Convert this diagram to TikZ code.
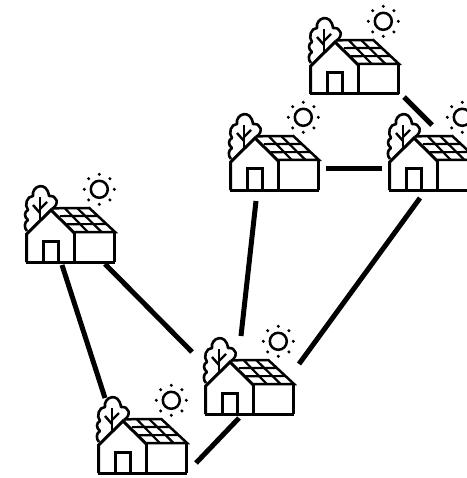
\documentclass[tikz,border=0pt]{standalone}
\usepackage{tikz}
\usetikzlibrary{calc, positioning}
\tikzset{
	x=1pt,
	y=-1pt,
	home/.style={
		rectangle,
		anchor=south west,
		minimum width=90pt,
		minimum height=90pt,
		inner sep=0pt,
		outer sep=0pt
	},
	link/.style={
		line width=5pt
	},
	outline/.style={
		line width=3pt,
		line join=miter
	},
	panel/.style={
		line width=2.2pt
	},
	homeicon/.pic={
		% foliage
		\draw[outline, line width=2.6pt, line join=round] (1,-31) .. controls (-2,-34) and (-2,-40) .. (2,-42)
			.. controls (-2,-45) and (-2,-50) .. (2,-52)
			.. controls (-2,-57) and (1,-66) .. (7,-66)
			.. controls (5,-76) and (21,-82) .. (23,-66)
			.. controls (31,-67) and (34,-58) .. (26,-53);
		\draw[outline, line width=2.4pt] (14,-65) -- (14,-41);
		\draw[outline, line width=2.4pt] (7,-57) -- (14,-49);
		\draw[outline, line width=2.4pt] (21,-60) -- (14,-53);
		% house
		\draw[outline] (.7,0) -- (.7,-28) -- (25,-52) -- (48.3,-29);
		\draw[outline] (-.5,0) -- (89,0);
		\draw[outline] (48.3,0) -- (48.3,-30);
		\draw[outline] (88,0) -- (88,-30);
		\draw[outline] (17.3,0) -- (17.3,-21) -- (32.7,-21) -- (32.7,0);
		% roof
		\coordinate (tl) at (26.7,-53.7);
		\coordinate (tr) at (63.3,-54);
		\coordinate (br) at (89,-30);
		\coordinate (bl) at (48.3,-30);
		\draw[outline, line width=2.5pt] (tl) -- (tr) -- (br) -- (bl);
		\foreach \t in {.33,.67} {
			\draw[panel] ($(tl)!\t!(bl)$) -- ($(tr)!\t!(br)$);
			\draw[panel] ($(tl)!\t!(tr)$) -- ($(bl)!\t!(br)$);
		}
		% sun
		\draw[line width=2.5pt] (73.3,-72.7) circle (8.5);
		\foreach \a in {0,45,...,315} {
			\fill ($(73.3,-72.7)+(\a:15)$) circle (1.7);
		}
	}
}

\begin{document}
\begin{tikzpicture}
	\useasboundingbox (0,0) rectangle (466,478);

	\node[home] (B) at (230,190) {};
	\node[home, right = 69pt of B] (C) {};
	\node[home] (A) at (310,94) {};
	\node[home] (D) at (26,262) {};
	\node[home] (E) at (205,414) {};
	\node[home] (F) at (98,473) {};

	\foreach \h in {A,B,C,D,E,F} {
		\pic at (\h.south west) {homeicon};
	}

	\draw[link] ([shift={(49,48)}]A.center) -- ([shift={(-2,-20)}]C.center);
	\draw[link] ([shift={(51,24)}]B.center) -- ([shift={(-52,24)}]C.center);
	\draw[link] ([shift={(-19,56)}]B.center) -- ([shift={(-9,-33)}]E.center);
	\draw[link] ([shift={(-14,53)}]C.center) -- ([shift={(49,-5)}]E.center);
	\draw[link] ([shift={(34,47)}]D.center) -- ([shift={(-58,-17)}]E.center);
	\draw[link] ([shift={(-9,48)}]D.center) -- ([shift={(-38,-30)}]F.center);
	\draw[link] ([shift={(-11,49)}]E.center) -- ([shift={(53,35)}]F.center);
\end{tikzpicture}
\end{document}
